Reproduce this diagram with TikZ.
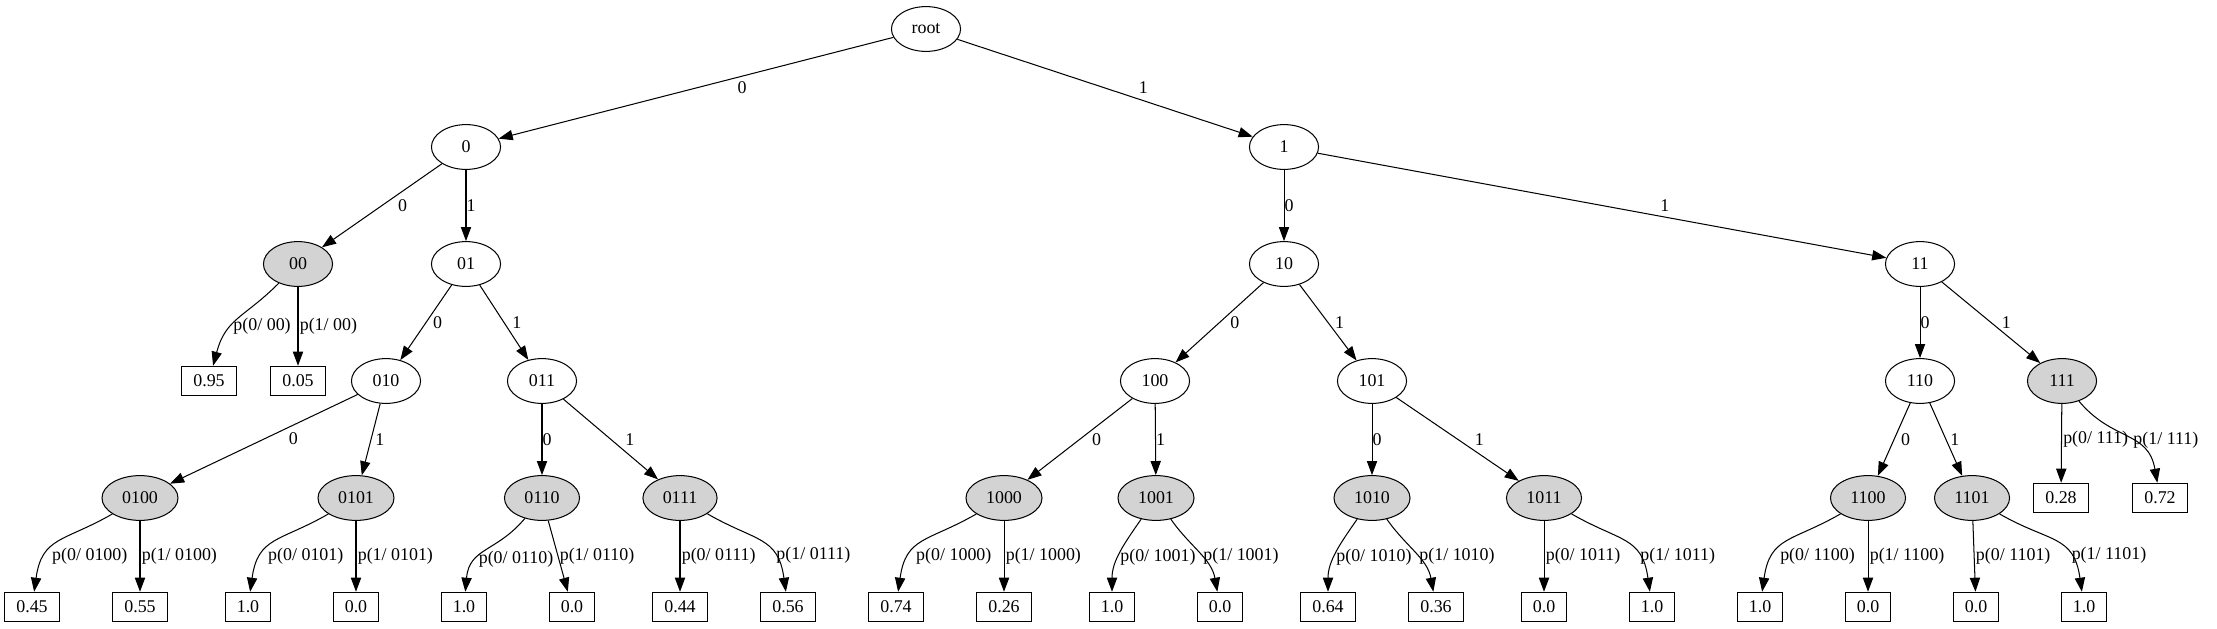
\documentclass[tikz,border=0pt]{standalone}
\usepackage{fontspec}
\setmainfont{Liberation Serif}
\usepackage{xcolor}
\usepackage{tikz}
\usetikzlibrary{positioning}
\usetikzlibrary{arrows.meta, shapes.geometric}
\definecolor{gvgrey}{HTML}{D3D3D3}
\tikzstyle{state} = [ellipse, draw=black, line width=0.8pt, minimum width=54pt, minimum height=35pt, inner xsep=7pt, font=\fontsize{14}{16}\selectfont]
\tikzstyle{seen} = [state, fill=gvgrey]
\tikzstyle{prob} = [rectangle, draw=black, line width=0.8pt, minimum height=23pt, inner xsep=9pt, inner ysep=0pt, font=\fontsize{14}{16}\selectfont]
\tikzstyle{arrow} = [line width=0.8pt, -{Triangle[length=11pt,width=8pt]}]
\tikzstyle{lbl} = [midway, inner sep=0pt, font=\fontsize{14}{16}\selectfont]
\tikzstyle{plbl} = [midway, anchor=west, inner sep=1pt, font=\fontsize{14}{16}\selectfont]
\tikzstyle{bendl} = [out=210, in=82, looseness=1.3]
\tikzstyle{bendr} = [out=-30, in=98, looseness=1.3]

\begin{document}
\begin{tikzpicture}[x=0.78125pt, y=0.78125pt]
\useasboundingbox (0,0) rectangle (2217,-629);
% prefix tree
\draw (926,-29) node (root) [state] {root};
\draw (466,-147) node (n0) [state] {0};
\draw (1284,-147) node (n1) [state] {1};
\draw (298,-264) node (n00) [seen] {00};
\draw (466,-264) node (n01) [state] {01};
\draw (1284,-264) node (n10) [state] {10};
\draw (1920,-264) node (n11) [state] {11};
\draw (386,-381) node (n010) [state] {010};
\draw (542,-381) node (n011) [state] {011};
\draw (1155,-381) node (n100) [state] {100};
\draw (1372,-381) node (n101) [state] {101};
\draw (1920,-381) node (n110) [state] {110};
\draw (2062,-381) node (n111) [seen] {111};
\draw (140,-498) node (n0100) [seen] {0100};
\draw (356,-498) node (n0101) [seen] {0101};
\draw (542,-498) node (n0110) [seen] {0110};
\draw (680,-498) node (n0111) [seen] {0111};
\draw (1004,-498) node (n1000) [seen] {1000};
\draw (1156,-498) node (n1001) [seen] {1001};
\draw (1372,-498) node (n1010) [seen] {1010};
\draw (1544,-498) node (n1011) [seen] {1011};
\draw (1868,-498) node (n1100) [seen] {1100};
\draw (1972,-498) node (n1101) [seen] {1101};
% probabilities
\draw (209,-381) node (a00) [prob] {0.95};
\draw (298,-381) node (b00) [prob] {0.05};
\draw (2061,-498) node (a111) [prob] {0.28};
\draw (2160,-498) node (b111) [prob] {0.72};
\draw (32,-607) node (a0100) [prob] {0.45};
\draw (140,-607) node (b0100) [prob] {0.55};
\draw (248,-607) node (a0101) [prob] {1.0};
\draw (356,-607) node (b0101) [prob] {0.0};
\draw (464,-607) node (a0110) [prob] {1.0};
\draw (572,-607) node (b0110) [prob] {0.0};
\draw (680,-607) node (a0111) [prob] {0.44};
\draw (788,-607) node (b0111) [prob] {0.56};
\draw (896,-607) node (a1000) [prob] {0.74};
\draw (1004,-607) node (b1000) [prob] {0.26};
\draw (1112,-607) node (a1001) [prob] {1.0};
\draw (1220,-607) node (b1001) [prob] {0.0};
\draw (1328,-607) node (a1010) [prob] {0.64};
\draw (1436,-607) node (b1010) [prob] {0.36};
\draw (1544,-607) node (a1011) [prob] {0.0};
\draw (1652,-607) node (b1011) [prob] {1.0};
\draw (1760,-607) node (a1100) [prob] {1.0};
\draw (1868,-607) node (b1100) [prob] {0.0};
\draw (1976,-607) node (a1101) [prob] {0.0};
\draw (2084,-607) node (b1101) [prob] {1.0};
% branches
\draw [arrow] (root) -- node[lbl, xshift=36pt] {0} (n0);
\draw [arrow] (root) -- node[lbl, xshift=30pt] {1} (n1);
\draw [arrow] (n0) -- node[lbl, xshift=16pt] {0} (n00);
\draw [arrow] (n0) -- node[lbl, xshift=4pt] {1} (n01);
\draw [arrow] (n1) -- node[lbl, xshift=4pt] {0} (n10);
\draw [arrow] (n1) -- node[lbl, xshift=49pt] {1} (n11);
\draw [arrow] (n01) -- node[lbl, xshift=9pt] {0} (n010);
\draw [arrow] (n01) -- node[lbl, xshift=10pt] {1} (n011);
\draw [arrow] (n10) -- node[lbl, xshift=12pt] {0} (n100);
\draw [arrow] (n10) -- node[lbl, xshift=9pt] {1} (n101);
\draw [arrow] (n11) -- node[lbl, xshift=4pt] {0} (n110);
\draw [arrow] (n11) -- node[lbl, xshift=12pt] {1} (n111);
\draw [arrow] (n010) -- node[lbl, xshift=23pt] {0} (n0100);
\draw [arrow] (n010) -- node[lbl, xshift=7pt] {1} (n0101);
\draw [arrow] (n011) -- node[lbl, xshift=4pt] {0} (n0110);
\draw [arrow] (n011) -- node[lbl, xshift=15pt] {1} (n0111);
\draw [arrow] (n100) -- node[lbl, xshift=13pt] {0} (n1000);
\draw [arrow] (n100) -- node[lbl, xshift=4pt] {1} (n1001);
\draw [arrow] (n101) -- node[lbl, xshift=4pt] {0} (n1010);
\draw [arrow] (n101) -- node[lbl, xshift=17pt] {1} (n1011);
\draw [arrow] (n110) -- node[lbl, xshift=9pt] {0} (n1100);
\draw [arrow] (n110) -- node[lbl, xshift=7pt] {1} (n1101);
% leaf edges
\draw [arrow] (n00) to[out=225, in=75, looseness=1.2] node[plbl, pos=0.6] {p(0/ 00)} (a00);
\draw [arrow] (n00) -- node[plbl] {p(1/ 00)} (b00);
\draw [arrow] (n111) -- node[plbl, yshift=3pt] {p(0/ 111)} (a111);
\draw [arrow] (n111) to[out=-50, in=100, looseness=1.2] node[plbl, pos=0.55] {p(1/ 111)} (b111);
\draw [arrow] (n0100) to[bendl] node[plbl, pos=0.7, xshift=4pt] {p(0/ 0100)} (a0100);
\draw [arrow] (n0100) -- node[plbl] {p(1/ 0100)} (b0100);
\draw [arrow] (n0101) to[bendl] node[plbl, pos=0.7, xshift=4pt] {p(0/ 0101)} (a0101);
\draw [arrow] (n0101) -- node[plbl] {p(1/ 0101)} (b0101);
\draw [arrow] (n0110) to[out=230, in=85, looseness=1.2] node[plbl, pos=0.65] {p(0/ 0110)} (a0110);
\draw [arrow] (n0110) -- node[plbl] {p(1/ 0110)} (b0110);
\draw [arrow] (n0111) -- node[plbl] {p(0/ 0111)} (a0111);
\draw [arrow] (n0111) to[bendr] node[plbl, pos=0.7] {p(1/ 0111)} (b0111);
\draw [arrow] (n1000) to[bendl] node[plbl, pos=0.7, xshift=4pt] {p(0/ 1000)} (a1000);
\draw [arrow] (n1000) -- node[plbl] {p(1/ 1000)} (b1000);
\draw [arrow] (n1001) to[out=235, in=90] node[plbl, pos=0.55] {p(0/ 1001)} (a1001);
\draw [arrow] (n1001) to[out=-55, in=100] node[plbl, pos=0.55] {p(1/ 1001)} (b1001);
\draw [arrow] (n1010) to[out=235, in=90] node[plbl, pos=0.55] {p(0/ 1010)} (a1010);
\draw [arrow] (n1010) to[out=-55, in=100] node[plbl, pos=0.55] {p(1/ 1010)} (b1010);
\draw [arrow] (n1011) -- node[plbl] {p(0/ 1011)} (a1011);
\draw [arrow] (n1011) to[bendr] node[plbl, pos=0.7] {p(1/ 1011)} (b1011);
\draw [arrow] (n1100) to[bendl] node[plbl, pos=0.7, xshift=4pt] {p(0/ 1100)} (a1100);
\draw [arrow] (n1100) -- node[plbl] {p(1/ 1100)} (b1100);
\draw [arrow] (n1101) -- node[plbl] {p(0/ 1101)} (a1101);
\draw [arrow] (n1101) to[bendr] node[plbl, pos=0.7] {p(1/ 1101)} (b1101);
\end{tikzpicture}
\end{document}
